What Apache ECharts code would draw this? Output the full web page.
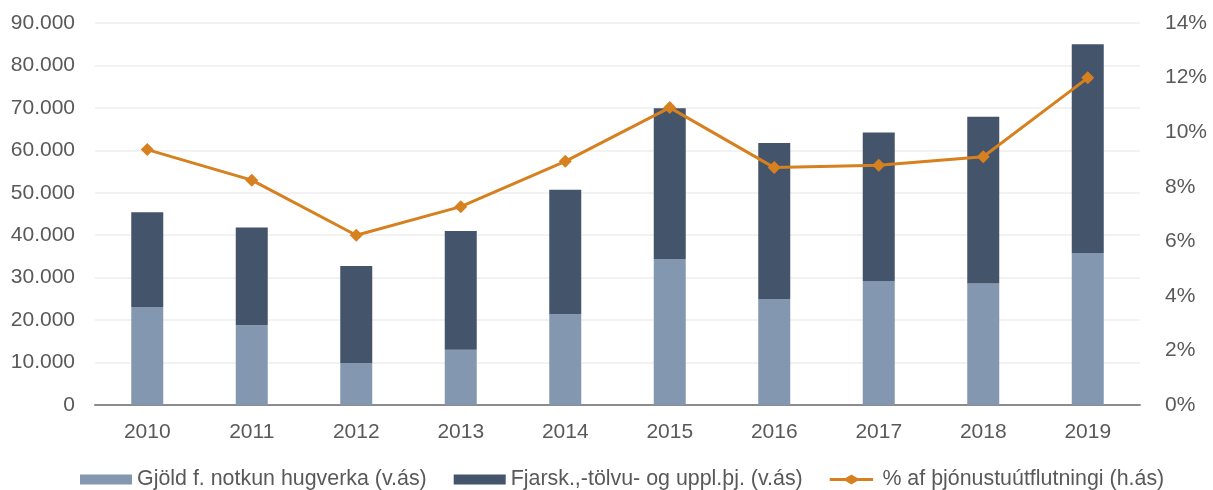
<!DOCTYPE html>
<html>
<head>
<meta charset="utf-8">
<script src="https://cdn.jsdelivr.net/npm/echarts@6/dist/echarts.min.js"></script>
<style>
  html, body { margin: 0; padding: 0; background: #fff; }
  #chart { width: 1213px; height: 490px; }
</style>
</head>
<body>
<div id="chart"></div>
<script>
    // ár
    var years = ['2010', '2011', '2012', '2013', '2014', '2015', '2016', '2017', '2018', '2019'];
    // Gjöld f. notkun hugverka (v.ás)
    var gjold = [23100, 18800, 9900, 13000, 21400, 34400, 25000, 29200, 28600, 35800];
    // Fjarsk.,-tölvu- og uppl.þj. (v.ás)
    var fjarsk = [22300, 23000, 22850, 28000, 29300, 35500, 36700, 35000, 39300, 49200];
    // % af þjónustuútflutningi (h.ás)
    var hlutfall = [9.36, 8.24, 6.22, 7.27, 8.93, 10.9, 8.70, 8.79, 9.10, 11.99];

    var names = ['Gjöld f. notkun hugverka (v.ás)', 'Fjarsk.,-tölvu- og uppl.þj. (v.ás)', '% af þjónustuútflutningi (h.ás)'];

    var fontName = '"Liberation Sans", Arial, sans-serif';
    // lína með tígli fyrir skýringu
    var lineIcon = 'path://M0,4.2L19,4.2L26,0L33,4.2L52,4.2L52,7.8L33,7.8L26,12L19,7.8L0,7.8Z';
    var myChart = echarts.init(document.getElementById('chart'));

    var option = {
        animation: false,
        textStyle: { fontFamily: fontName },
        grid: { left: 95, right: 73, top: 23, bottom: 85, containLabel: false },
        legend: {
            top: 464,
            left: 75,
            itemWidth: 52,
            itemHeight: 10,
            itemGap: 27,
            textStyle: { fontSize: 21.4, color: '#595959', fontFamily: fontName },
            data: [
                { name: names[0], icon: 'rect' },
                { name: names[1], icon: 'rect' },
                { name: names[2], icon: lineIcon }
            ]
        },
        xAxis: {
            type: 'category',
            data: years,
            axisTick: { show: false },
            axisLine: { lineStyle: { color: '#8c8c8c', width: 2 } },
            axisLabel: { fontSize: 21, color: '#595959', margin: 17 }
        },
        yAxis: [
            {
                type: 'value',
                min: 0, max: 90000, interval: 10000,
                axisLabel: {
                    fontSize: 21, color: '#595959', margin: 20,
                    formatter: function (v) {
                        return v === 0 ? '0' : (v / 1000) + '.000';
                    }
                },
                splitLine: { lineStyle: { color: '#eeeeee', width: 1.5 } }
            },
            {
                type: 'value',
                min: 0, max: 14, interval: 2,
                axisLabel: { fontSize: 21, color: '#595959', margin: 25, formatter: '{value}%' },
                splitLine: { show: false }
            }
        ],
        series: [
            {
                name: names[0],
                type: 'bar',
                stack: 'alls',
                barWidth: 32,
                itemStyle: { color: '#8497b0' },
                data: gjold
            },
            {
                name: names[1],
                type: 'bar',
                stack: 'alls',
                barWidth: 32,
                itemStyle: { color: '#44546a' },
                data: fjarsk
            },
            {
                name: names[2],
                type: 'line',
                yAxisIndex: 1,
                symbol: 'diamond',
                symbolSize: 13,
                lineStyle: { color: '#d6801f', width: 3 },
                itemStyle: { color: '#d6801f' },
                data: hlutfall
            }
        ]
    };
    myChart.setOption(option);
</script>
</body>
</html>
